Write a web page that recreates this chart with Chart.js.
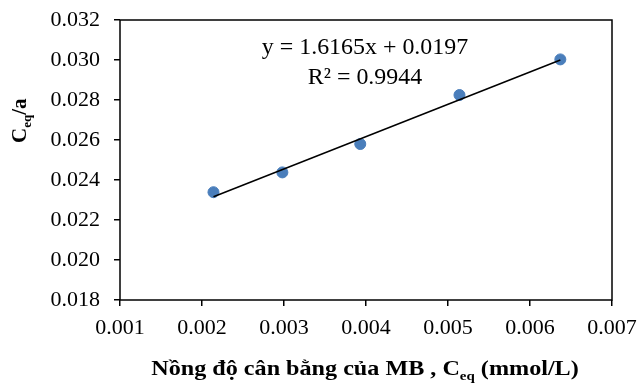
<!DOCTYPE html>
<html>
<head>
<meta charset="utf-8">
<script src="https://cdn.jsdelivr.net/npm/chart.js@4.4.1/dist/chart.umd.min.js"></script>
<style>
  body { margin: 0; background: #fff; }
  canvas { display: block; }
</style>
</head>
<body>
<canvas id="myChart" width="640" height="383"></canvas>
<script>
// measured points (Ceq, Ceq/a)
const ceq = [0.00214, 0.00298, 0.00393, 0.00514, 0.00637];
const ceqOverA = [0.02339, 0.02438, 0.0258, 0.02825, 0.03003];
// ends of the linear trendline
const trendX = [0.00214, 0.00637];
const trendY = [0.02316, 0.03000];
const xTicks = [0.001, 0.002, 0.003, 0.004, 0.005, 0.006, 0.007];
const yTicks = [0.018, 0.020, 0.022, 0.024, 0.026, 0.028, 0.030, 0.032];
const equation = "y = 1.6165x + 0.0197";
const rSquared = "R² = 0.9944";

const serif = "'Liberation Serif', 'Times New Roman', serif";

// draws text pieces, some as subscripts
function drawPieces(ctx, pieces, x, y, size) {
  let cx = x;
  pieces.forEach(p => {
    ctx.font = "bold " + (p.sub ? Math.round(size * 0.62) : size) + "px " + serif;
    ctx.fillText(p.t, cx, p.sub ? y + 5 : y);
    cx += ctx.measureText(p.t).width;
  });
}
function piecesWidth(ctx, pieces, size) {
  let w = 0;
  pieces.forEach(p => {
    ctx.font = "bold " + (p.sub ? Math.round(size * 0.62) : size) + "px " + serif;
    w += ctx.measureText(p.t).width;
  });
  return w;
}

const extras = {
  id: 'extras',
  afterDraw(chart) {
    const ctx = chart.ctx;
    const a = chart.chartArea;
    ctx.save();
    ctx.strokeStyle = '#000';
    ctx.lineWidth = 1.5;
    ctx.strokeRect(a.left, a.top, a.right - a.left, a.bottom - a.top);

    ctx.fillStyle = '#000';
    ctx.textAlign = 'center';
    ctx.textBaseline = 'alphabetic';
    ctx.save();
    ctx.translate(365, 0);
    ctx.scale(1.04, 1);
    ctx.font = "23px " + serif;
    ctx.fillText(equation, 0, 54);
    ctx.fillText(rSquared, 0, 84);
    ctx.restore();

    ctx.textAlign = 'left';
    const xt = [{t: "Nồng độ cân bằng của MB , C"}, {t: "eq", sub: true}, {t: " (mmol/L)"}];
    const w = piecesWidth(ctx, xt, 21);
    ctx.save();
    ctx.translate(365, 375);
    ctx.scale(1.15, 1);
    drawPieces(ctx, xt, -w / 2, 0, 21);
    ctx.restore();

    const yt = [{t: "C"}, {t: "eq", sub: true}, {t: "/a"}];
    ctx.translate(26, 143);
    ctx.rotate(-Math.PI / 2);
    drawPieces(ctx, yt, 0, 0, 21);
    ctx.restore();
  }
};

new Chart(document.getElementById('myChart').getContext('2d'), {
  type: 'scatter',
  data: {
    datasets: [{
      type: 'line',
      data: trendX.map((x, i) => ({ x: x, y: trendY[i] })),
      borderColor: '#000',
      borderWidth: 1.5,
      pointRadius: 0,
      fill: false,
    }, {
      data: ceq.map((x, i) => ({ x: x, y: ceqOverA[i] })),
      backgroundColor: '#4a7ebb',
      borderColor: '#4a7ebb',
      pointRadius: 5.5,
    }]
  },
  options: {
    responsive: false,
    animation: false,
    layout: { padding: { top: 20, right: 28, left: 0, bottom: 0 } },
    plugins: { legend: { display: false }, tooltip: { enabled: false } },
    scales: {
      x: {
        type: 'linear',
        min: 0.001, max: 0.007,
        afterBuildTicks: s => { s.ticks = xTicks.map(v => ({ value: v })); },
        afterFit: s => { s.height = 83; s.paddingLeft = 0; s.paddingRight = 0; },
        border: { display: false },
        grid: { drawOnChartArea: false, drawTicks: true, tickLength: 6, color: '#000', lineWidth: 1.5 },
        ticks: {
          color: '#000', padding: 9,
          font: { family: serif, size: 22 },
          callback: v => v.toFixed(3)
        }
      },
      y: {
        type: 'linear',
        min: 0.018, max: 0.032,
        afterBuildTicks: s => { s.ticks = yTicks.map(v => ({ value: v })); },
        afterFit: s => { s.width = 120; s.paddingTop = 0; s.paddingBottom = 0; },
        border: { display: false },
        grid: { drawOnChartArea: false, drawTicks: true, tickLength: 6, color: '#000', lineWidth: 1.5 },
        ticks: {
          color: '#000', padding: 14,
          font: { family: serif, size: 22 },
          callback: v => v.toFixed(3)
        }
      }
    }
  },
  plugins: [extras]
});
</script>
</body>
</html>
